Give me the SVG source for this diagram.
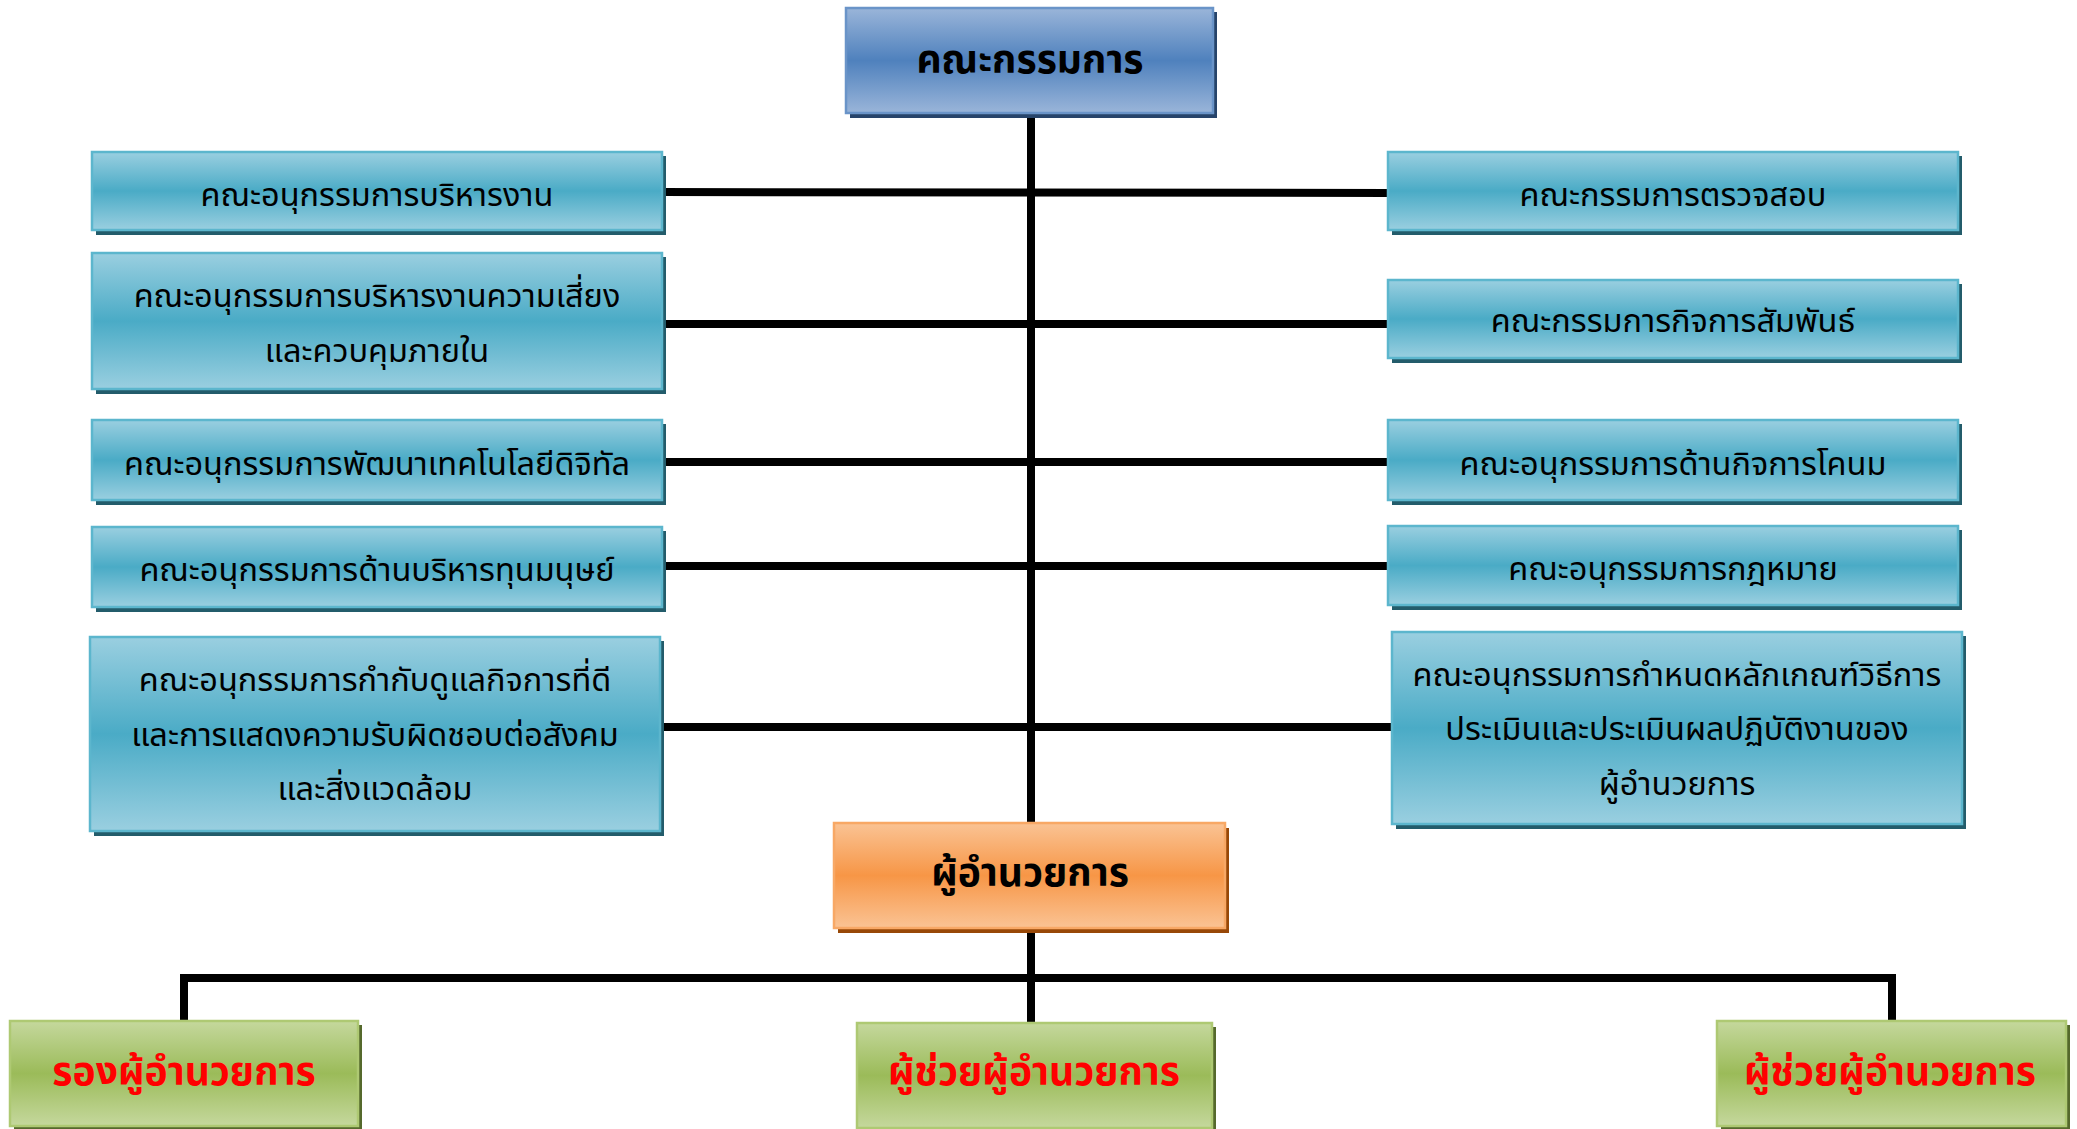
<svg xmlns="http://www.w3.org/2000/svg" width="2077" height="1129" viewBox="0 0 2077 1129">
<defs>
<linearGradient id="gTeal" x1="0" y1="0" x2="0" y2="1">
<stop offset="0" stop-color="#9acfe0"/><stop offset="0.5" stop-color="#4aabc6"/><stop offset="1" stop-color="#9acfe0"/>
</linearGradient>
<linearGradient id="gBlue" x1="0" y1="0" x2="0" y2="1">
<stop offset="0" stop-color="#9ab5d9"/><stop offset="0.5" stop-color="#4f81bd"/><stop offset="1" stop-color="#9ab5d9"/>
</linearGradient>
<linearGradient id="gOrange" x1="0" y1="0" x2="0" y2="1">
<stop offset="0" stop-color="#fac394"/><stop offset="0.5" stop-color="#f79646"/><stop offset="1" stop-color="#fac394"/>
</linearGradient>
<linearGradient id="gGreen" x1="0" y1="0" x2="0" y2="1">
<stop offset="0" stop-color="#c5d89d"/><stop offset="0.5" stop-color="#9bbb59"/><stop offset="1" stop-color="#c5d89d"/>
</linearGradient>
</defs>
<style>
text{font-family:"Noto Sans Thai","Noto Sans","DejaVu Sans",sans-serif;text-anchor:middle;}
.t{font-size:32.5px;fill:#000;}
.tb{font-size:39px;font-weight:bold;fill:#000;}
.tr{font-size:39px;font-weight:bold;fill:#ff0000;}
.teal{fill:url(#gTeal);stroke:#5cb6cd;stroke-width:2.5;}
.tealS{fill:#235c6b;}
.blue{fill:url(#gBlue);stroke:#6a94c8;stroke-width:2.5;}
.blueS{fill:#27446a;}
.orange{fill:url(#gOrange);stroke:#f8a865;stroke-width:2.5;}
.orangeS{fill:#984807;}
.green{fill:url(#gGreen);stroke:#aec973;stroke-width:2.5;}
.greenS{fill:#55692c;}
.ln{stroke:#000;stroke-width:8;fill:none;}
</style>
<g id="connectors">
<line class="ln" x1="1031" y1="113" x2="1031" y2="824"/>
<line class="ln" x1="662" y1="192" x2="1388" y2="193"/>
<line class="ln" x1="662" y1="324" x2="1388" y2="324"/>
<line class="ln" x1="662" y1="462" x2="1388" y2="462"/>
<line class="ln" x1="662" y1="566" x2="1388" y2="566"/>
<line class="ln" x1="660" y1="727" x2="1392" y2="727"/>
<line class="ln" x1="1031" y1="928" x2="1031" y2="1023"/>
<polyline class="ln" points="184,1021 184,978 1892,978 1892,1021"/>
</g>
<g id="board">
<rect class="blueS" x="850" y="12" width="367" height="106"/>
<rect class="blue" x="846" y="8" width="367" height="105"/>
<text class="tb" x="1030" y="73">คณะกรรมการ</text>
</g>
<g id="l1">
<rect class="tealS" x="96" y="156" width="570" height="79"/>
<rect class="teal" x="92" y="152" width="570" height="78"/>
<text class="t" x="377" y="206">คณะอนุกรรมการบริหารงาน</text>
</g>
<g id="l2">
<rect class="tealS" x="96" y="257" width="570" height="137"/>
<rect class="teal" x="92" y="253" width="570" height="136"/>
<text class="t" x="377" y="307">คณะอนุกรรมการบริหารงานความเสี่ยง</text>
<text class="t" x="377" y="362">และควบคุมภายใน</text>
</g>
<g id="l3">
<rect class="tealS" x="96" y="424" width="570" height="81"/>
<rect class="teal" x="92" y="420" width="570" height="80"/>
<text class="t" x="377" y="475">คณะอนุกรรมการพัฒนาเทคโนโลยีดิจิทัล</text>
</g>
<g id="l4">
<rect class="tealS" x="96" y="531" width="570" height="81"/>
<rect class="teal" x="92" y="527" width="570" height="80"/>
<text class="t" x="377" y="581">คณะอนุกรรมการด้านบริหารทุนมนุษย์</text>
</g>
<g id="l5">
<rect class="tealS" x="94" y="641" width="570" height="195"/>
<rect class="teal" x="90" y="637" width="570" height="194"/>
<text class="t" x="375" y="691">คณะอนุกรรมการกำกับดูแลกิจการที่ดี</text>
<text class="t" x="375" y="746">และการแสดงความรับผิดชอบต่อสังคม</text>
<text class="t" x="375" y="800">และสิ่งแวดล้อม</text>
</g>
<g id="r1">
<rect class="tealS" x="1392" y="156" width="570" height="79"/>
<rect class="teal" x="1388" y="152" width="570" height="78"/>
<text class="t" x="1673" y="206">คณะกรรมการตรวจสอบ</text>
</g>
<g id="r2">
<rect class="tealS" x="1392" y="284" width="570" height="79"/>
<rect class="teal" x="1388" y="280" width="570" height="78"/>
<text class="t" x="1673" y="332">คณะกรรมการกิจการสัมพันธ์</text>
</g>
<g id="r3">
<rect class="tealS" x="1392" y="424" width="570" height="81"/>
<rect class="teal" x="1388" y="420" width="570" height="80"/>
<text class="t" x="1673" y="475">คณะอนุกรรมการด้านกิจการโคนม</text>
</g>
<g id="r4">
<rect class="tealS" x="1392" y="530" width="570" height="80"/>
<rect class="teal" x="1388" y="526" width="570" height="79"/>
<text class="t" x="1673" y="580">คณะอนุกรรมการกฎหมาย</text>
</g>
<g id="r5">
<rect class="tealS" x="1396" y="636" width="570" height="193"/>
<rect class="teal" x="1392" y="632" width="570" height="192"/>
<text class="t" x="1677" y="686">คณะอนุกรรมการกำหนดหลักเกณฑ์วิธีการ</text>
<text class="t" x="1677" y="740">ประเมินและประเมินผลปฏิบัติงานของ</text>
<text class="t" x="1677" y="795">ผู้อำนวยการ</text>
</g>
<g id="director">
<rect class="orangeS" x="838" y="828" width="391" height="105"/>
<rect class="orange" x="834" y="823" width="391" height="105"/>
<text class="tb" x="1030" y="886">ผู้อำนวยการ</text>
</g>
<g id="deputy">
<rect class="greenS" x="14" y="1025" width="348" height="105"/>
<rect class="green" x="10" y="1021" width="348" height="105"/>
<text class="tr" x="184" y="1085">รองผู้อำนวยการ</text>
</g>
<g id="asst1">
<rect class="greenS" x="861" y="1027" width="355" height="105"/>
<rect class="green" x="857" y="1023" width="355" height="105"/>
<text class="tr" x="1034" y="1085">ผู้ช่วยผู้อำนวยการ</text>
</g>
<g id="asst2">
<rect class="greenS" x="1721" y="1025" width="349" height="105"/>
<rect class="green" x="1717" y="1021" width="349" height="105"/>
<text class="tr" x="1890" y="1085">ผู้ช่วยผู้อำนวยการ</text>
</g>
</svg>
